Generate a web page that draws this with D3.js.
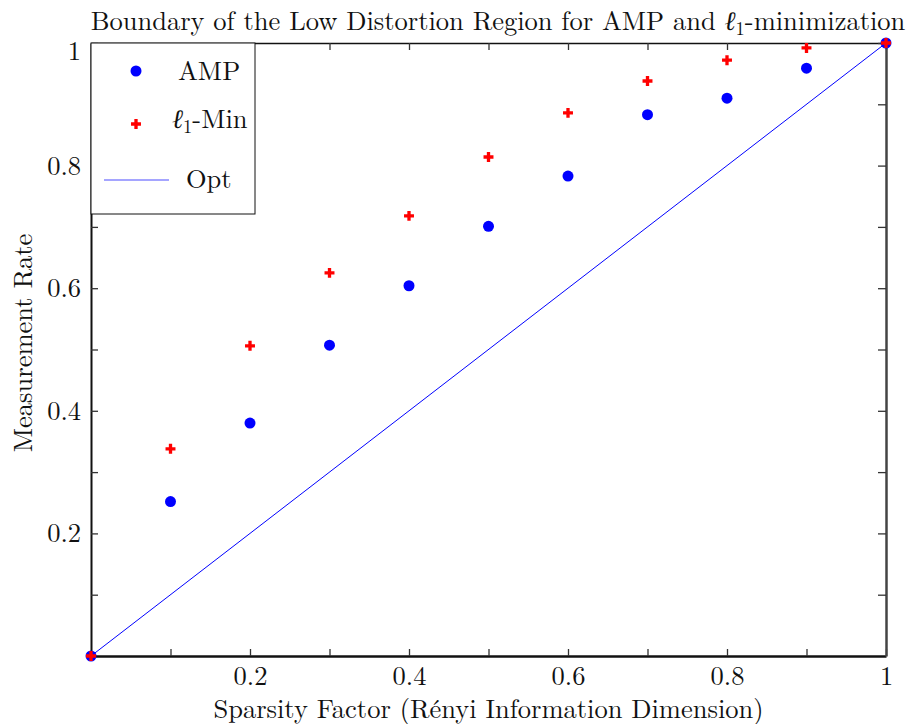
<!DOCTYPE html>
<html lang="en">
<head>
<meta charset="UTF-8">
<title>Low Distortion Region</title>
<style>
  body { margin: 0; background: #fff; }
</style>
</head>
<body>
<script src="https://cdn.jsdelivr.net/npm/d3@7"></script>
<div id="chart"></div>
<script>
  // data
  var sparsity = [0, 0.1, 0.2, 0.3, 0.4, 0.5, 0.6, 0.7, 0.8, 0.9, 1];
  var ampRate  = [0, 0.252, 0.380, 0.507, 0.604, 0.701, 0.783, 0.883, 0.910, 0.959, 1];
  var l1Rate   = [0, 0.338, 0.506, 0.625, 0.718, 0.814, 0.886, 0.938, 0.972, 0.992, 1];
  var optLine  = [[0, 0], [1, 1]];
  var tickVals = [0.1, 0.2, 0.3, 0.4, 0.5, 0.6, 0.7, 0.8, 0.9, 1];
  var labelVals = [0.2, 0.4, 0.6, 0.8, 1];

  var width = 912, height = 724;
  var margin = {top: 43, right: 26, bottom: 68, left: 91};
  var w = width - margin.left - margin.right,
      h = height - margin.top - margin.bottom;
  var serif = "'Latin Modern Roman', 'CMU Serif', serif";
  var fs = 26.5;

  var svg = d3.select("#chart").append("svg")
    .attr("width", width).attr("height", height)
    .attr("font-family", serif).attr("font-size", fs).attr("fill", "#111");
  var g = svg.append("g")
    .attr("transform", "translate(" + margin.left + "," + margin.top + ")");

  var x = d3.scaleLinear().domain([0, 1]).range([0, w]);
  var y = d3.scaleLinear().domain([0, 1]).range([h, 0]);

  function fmt(d) { return labelVals.indexOf(d) >= 0 ? d3.format("~g")(d) : ""; }

  // axes, ticks pointing inward
  var axBottom = g.append("g").attr("transform", "translate(0," + h + ")")
    .call(d3.axisBottom(x).tickValues(tickVals).tickSizeInner(-7).tickSizeOuter(0).tickPadding(10).tickFormat(fmt));
  var axLeft = g.append("g")
    .call(d3.axisLeft(y).tickValues(tickVals).tickSizeInner(-7).tickSizeOuter(0).tickPadding(10).tickFormat(fmt));
  var axTop = g.append("g")
    .call(d3.axisTop(x).tickValues(tickVals).tickSizeInner(-7).tickSizeOuter(0).tickFormat(""));
  var axRight = g.append("g").attr("transform", "translate(" + w + ",0)")
    .call(d3.axisRight(y).tickValues(tickVals).tickSizeInner(-8).tickSizeOuter(0).tickFormat(""));

  [axBottom, axLeft, axTop, axRight].forEach(function(a) {
    a.attr("font-size", fs).attr("font-family", serif);
    a.selectAll(".tick text").attr("fill", "#111");
    a.selectAll(".tick line").attr("stroke", "#333").attr("stroke-width", 1.3);
  });
  // top label on the y axis sits a little lower, as in the source
  axLeft.selectAll(".tick text").filter(function(d) { return d === 1; }).attr("dy", "0.62em");
  axBottom.select(".domain").attr("stroke", "#111").attr("stroke-width", 2.5);
  axLeft.select(".domain").attr("stroke", "#111").attr("stroke-width", 2);
  axTop.select(".domain").attr("stroke", "#111").attr("stroke-width", 1.5);
  axRight.select(".domain").attr("stroke", "#444").attr("stroke-width", 2.5);

  // optimal line
  g.append("path")
    .datum(optLine)
    .attr("fill", "none").attr("stroke", "#0000ff").attr("stroke-width", 1)
    .attr("d", d3.line().x(function(d) { return x(d[0]); }).y(function(d) { return y(d[1]); }));

  // AMP dots
  g.selectAll(".amp").data(sparsity).enter().append("circle")
    .attr("class", "amp")
    .attr("cx", function(d) { return x(d); })
    .attr("cy", function(d, i) { return y(ampRate[i]); })
    .attr("r", 5.5).attr("fill", "#0000ff");

  // l1 plus markers
  var plus = d3.symbol().type(d3.symbolCross).size(55);
  g.selectAll(".l1").data(sparsity).enter().append("path")
    .attr("class", "l1")
    .attr("transform", function(d, i) { return "translate(" + x(d) + "," + y(l1Rate[i]) + ")"; })
    .attr("d", plus).attr("fill", "#ff0000");

  // legend
  var leg = g.append("g");
  leg.append("rect").attr("x", 0).attr("y", 0).attr("width", 164).attr("height", 171)
    .attr("fill", "#fff").attr("stroke", "#111").attr("stroke-width", 1);
  leg.append("circle").attr("cx", 45).attr("cy", 28).attr("r", 5.5).attr("fill", "#0000ff");
  leg.append("text").attr("x", 87).attr("y", 37).text("AMP");
  leg.append("path").attr("transform", "translate(45,81)").attr("d", plus).attr("fill", "#ff0000");
  var l1t = leg.append("text").attr("x", 81).attr("y", 85);
  l1t.append("tspan").attr("font-style", "italic").text("ℓ");
  l1t.append("tspan").attr("dy", 5).attr("font-size", 18.5).text("1");
  l1t.append("tspan").attr("dy", -5).text("-Min");
  leg.append("line").attr("x1", 13).attr("x2", 78).attr("y1", 137).attr("y2", 137)
    .attr("stroke", "#4d4dff").attr("stroke-width", 1.2);
  leg.append("text").attr("x", 95).attr("y", 145).text("Opt");

  // titles
  var title = svg.append("text").attr("x", 498).attr("y", 30).attr("text-anchor", "middle");
  title.append("tspan").text("Boundary of the Low Distortion Region for AMP and ");
  title.append("tspan").attr("font-style", "italic").text("ℓ");
  title.append("tspan").attr("dy", 5).attr("font-size", 18.5).text("1");
  title.append("tspan").attr("dy", -5).text("-minimization");

  svg.append("text").attr("x", margin.left + w / 2).attr("y", 718).attr("text-anchor", "middle")
    .text("Sparsity Factor (Rényi Information Dimension)");

  svg.append("text").attr("transform", "translate(32,343) rotate(-90)")
    .attr("text-anchor", "middle").text("Measurement Rate");
</script>
</body>
</html>
